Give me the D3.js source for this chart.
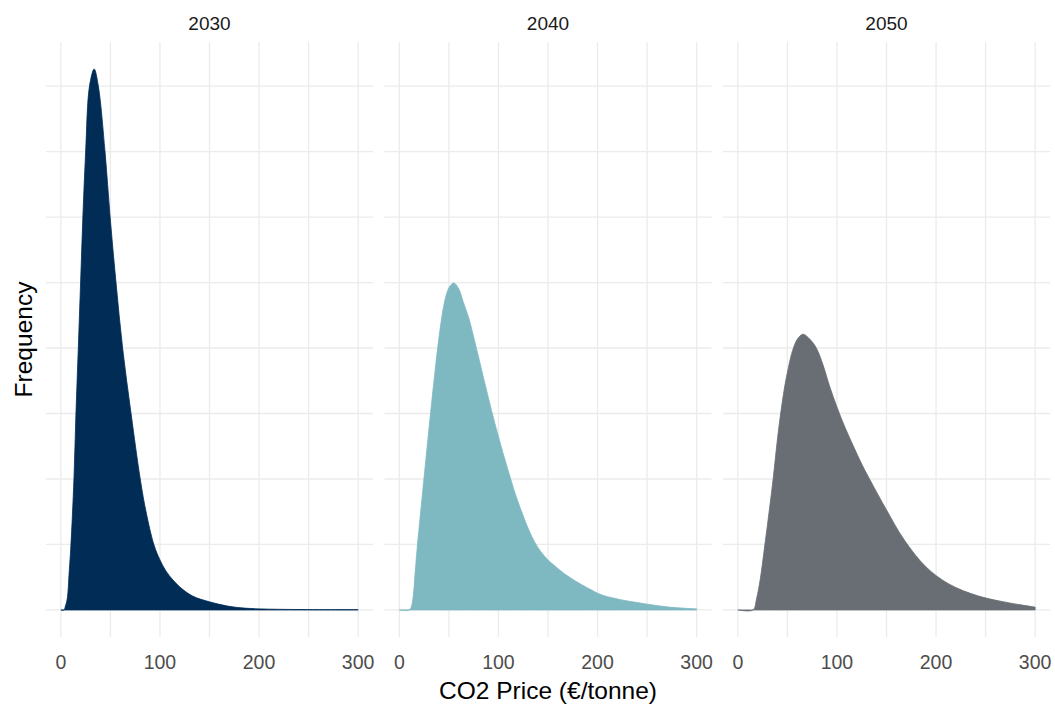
<!DOCTYPE html>
<html>
<head>
<meta charset="utf-8">
<script src="https://cdn.jsdelivr.net/npm/d3@7"></script>
<style>
  body { margin: 0; background: #fff; }
  svg { font-family: "Liberation Sans", Arial, sans-serif; }
</style>
</head>
<body>
<svg id="chart" width="1055" height="705"></svg>
<script>
// Facets (years) and fill colours
const years = ['2030', '2040', '2050'];
const fills = ['#002c55', '#7eb8c1', '#686e74'];

// Tick labels on the price axis, gridlines every 50
const priceTicks = [0, 100, 200, 300];
const priceGrid = [0, 50, 100, 150, 200, 250, 300];
const densGrid = [0, 0.0025, 0.005, 0.0075, 0.01, 0.0125, 0.015, 0.0175, 0.02];

// Density curves (price in €/tonne, density)
const price2030 = [0, 3.5, 4.1, 6.4, 8.4, 10.1, 13.2, 15.2, 17.6, 19.9, 22.2, 25, 28.9, 33.6, 37.8, 44.6, 49.7, 55.7, 62.3, 70.9, 80.1, 86, 94, 100, 106, 113, 120, 133, 150, 168, 182, 202, 230, 300];
const dens2030  = [0, 0, 0.00008, 0.00042, 0.00145, 0.00244, 0.005, 0.00748, 0.01, 0.01248, 0.015, 0.01748, 0.02, 0.02065, 0.02, 0.01748, 0.015, 0.01248, 0.01, 0.00748, 0.005, 0.00374, 0.00248, 0.00191, 0.00149, 0.00115, 0.00088, 0.00053, 0.00031, 0.00015, 0.00008, 0.00004, 0.00002, 0.00001];

const price2040 = [0, 10, 12, 14, 16, 18, 21.3, 24.7, 28, 31.4, 34.6, 38.3, 41, 44, 47, 50.5, 55, 60, 64.2, 70, 77.2, 85, 93.1, 102, 111.7, 118.4, 125, 131, 137, 143, 150, 157, 167, 177.5, 190, 204.5, 220, 238.5, 272, 300];
const dens2040  = [0, 0, 0.00011, 0.00053, 0.00145, 0.00237, 0.00366, 0.00496, 0.00622, 0.00748, 0.00863, 0.00989, 0.01069, 0.01145, 0.01198, 0.01233, 0.01248, 0.01225, 0.01179, 0.01115, 0.01008, 0.00885, 0.0076, 0.00634, 0.00508, 0.00427, 0.00359, 0.00302, 0.00256, 0.00221, 0.00191, 0.00168, 0.00137, 0.00111, 0.00084, 0.00057, 0.00042, 0.00029, 0.00011, 0.00004];

const price2050 = [0, 15.4, 18.8, 22.5, 27.2, 31.5, 35.6, 39.6, 42.3, 47, 50.7, 55.1, 60.1, 65.7, 72.5, 79.2, 86, 92.5, 100, 108, 117, 125, 134, 150, 168, 190, 213, 243, 274, 300];
const dens2050  = [0, 0, 0.00042, 0.00115, 0.00248, 0.00374, 0.005, 0.00641, 0.00725, 0.00847, 0.0092, 0.00989, 0.01034, 0.01053, 0.01034, 0.01, 0.00935, 0.00855, 0.00775, 0.00698, 0.00622, 0.00557, 0.00492, 0.00382, 0.00267, 0.00164, 0.00099, 0.00053, 0.00027, 0.00011];

const series = [
  d3.zip(price2030, dens2030),
  d3.zip(price2040, dens2040),
  d3.zip(price2050, dens2050)
];

// Layout
const panelTop = 42, panelBottom = 637,
      panelW = 327, panelStep = 338.5, firstLeft = 46;

const svg = d3.select('#chart');

// Shared scales (ggplot style 5% expansion)
const x = d3.scaleLinear().domain([-15, 315]).range([0, panelW]);
const maxD = d3.max(series, s => d3.max(s, d => d[1]));
const y = d3.scaleLinear().domain([-0.05 * maxD, 1.05 * maxD]).range([panelBottom, panelTop]);

const area = d3.area()
  .x(d => x(d[0]))
  .y0(y(0))
  .y1(d => y(d[1]))
  .curve(d3.curveCatmullRom.alpha(0.5));

years.forEach(function(yr, i) {
  const g = svg.append('g')
    .attr('transform', 'translate(' + (firstLeft + i * panelStep) + ',0)');

  // gridlines
  g.selectAll('.vgrid')
    .data(priceGrid)
    .enter()
    .append('line')
    .attr('x1', d => x(d)).attr('x2', d => x(d))
    .attr('y1', panelTop).attr('y2', panelBottom)
    .attr('stroke', '#ebebeb')
    .attr('stroke-width', 1.3);

  g.selectAll('.hgrid')
    .data(densGrid)
    .enter()
    .append('line')
    .attr('x1', 0).attr('x2', panelW)
    .attr('y1', d => y(d)).attr('y2', d => y(d))
    .attr('stroke', '#ebebeb')
    .attr('stroke-width', 1.3);

  // density area
  g.append('path')
    .datum(series[i])
    .attr('d', area)
    .attr('fill', fills[i])
    .attr('stroke', fills[i])
    .attr('stroke-width', 0.8);

  // strip label
  g.append('text')
    .attr('x', panelW / 2)
    .attr('y', 30)
    .attr('text-anchor', 'middle')
    .attr('fill', '#1a1a1a')
    .style('font-size', '19px')
    .text(yr);

  // x tick labels
  g.selectAll('.tick')
    .data(priceTicks)
    .enter()
    .append('text')
    .attr('x', d => x(d))
    .attr('y', 669)
    .attr('text-anchor', 'middle')
    .attr('fill', '#4d4d4d')
    .style('font-size', '19.5px')
    .text(d => d);
});

// Axis titles
svg.append('text')
  .attr('x', 548)
  .attr('y', 699)
  .attr('text-anchor', 'middle')
  .attr('fill', '#000')
  .style('font-size', '24.5px')
  .text('CO2 Price (€/tonne)');

svg.append('text')
  .attr('transform', 'translate(32,' + ((panelTop + panelBottom) / 2) + ') rotate(-90)')
  .attr('text-anchor', 'middle')
  .attr('fill', '#000')
  .style('font-size', '24.5px')
  .text('Frequency');
</script>
</body>
</html>
